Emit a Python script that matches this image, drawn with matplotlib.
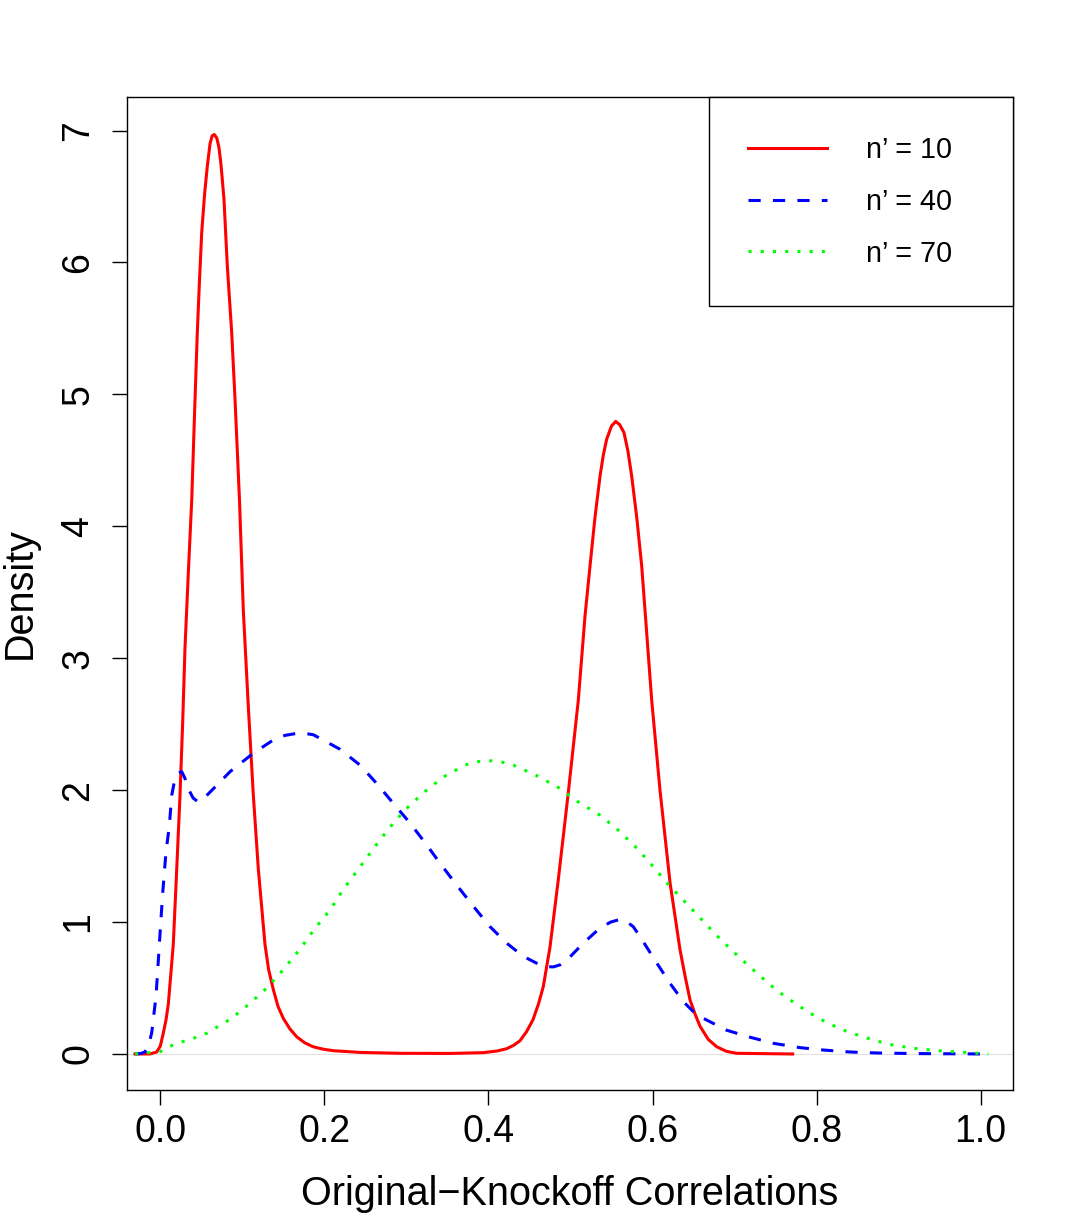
import matplotlib
matplotlib.use("Agg")
import matplotlib.pyplot as plt

plt.rcParams["font.family"] = ["Liberation Sans", "DejaVu Sans"]

# density curves (x = correlation, y = density)
x_n10 = [-0.0308, -0.0126, -0.0044, 0.0000, 0.0037, 0.0070, 0.0098, 0.0158, 0.0200,
         0.0240, 0.0273, 0.0301, 0.0341, 0.0383, 0.0423, 0.0451, 0.0478, 0.0505,
         0.0540, 0.0573, 0.0606, 0.0632, 0.0658, 0.0690, 0.0715, 0.0740, 0.0776,
         0.0817, 0.0870, 0.0911, 0.0965, 0.1012, 0.1073, 0.1134, 0.1195, 0.1276,
         0.1320, 0.1377, 0.1435, 0.1499, 0.1580, 0.1663, 0.1760, 0.1861, 0.1980,
         0.2105, 0.2434, 0.2922, 0.3532, 0.3933, 0.4100, 0.4222, 0.4305, 0.4384,
         0.4465, 0.4543, 0.4610, 0.4668, 0.4750, 0.4851, 0.4973, 0.5095, 0.5177,
         0.5238, 0.5299, 0.5360, 0.5400, 0.5441, 0.5500, 0.5551, 0.5600, 0.5652,
         0.5700, 0.5746, 0.5807, 0.5868, 0.5929, 0.5990, 0.6091, 0.6213, 0.6335,
         0.6400, 0.6457, 0.6520, 0.6579, 0.6680, 0.6782, 0.6900, 0.7026, 0.7708]
y_n10 = [0.0, 0.0, 0.015, 0.06, 0.16, 0.26, 0.38, 0.83, 1.40,
         1.96, 2.52, 3.08, 3.64, 4.20, 4.96, 5.47, 5.87, 6.23,
         6.52, 6.73, 6.90, 6.96, 6.97, 6.94, 6.87, 6.74, 6.48,
         5.97, 5.47, 4.96, 4.20, 3.36, 2.63, 1.96, 1.40, 0.83,
         0.64, 0.49, 0.36, 0.27, 0.19, 0.13, 0.085, 0.055, 0.037,
         0.025, 0.012, 0.005, 0.004, 0.010, 0.022, 0.040, 0.065, 0.10,
         0.17, 0.26, 0.38, 0.51, 0.81, 1.32, 1.98, 2.68, 3.32,
         3.70, 4.07, 4.38, 4.54, 4.66, 4.76, 4.795, 4.77, 4.71,
         4.57, 4.38, 4.07, 3.70, 3.19, 2.68, 2.00, 1.30, 0.79,
         0.58, 0.41, 0.30, 0.21, 0.11, 0.055, 0.020, 0.005, 0.0]

x_n40 = [-0.0308, -0.0230, -0.0187, -0.0145, -0.0105, -0.0052, -0.0012, 0.0029, 0.0069,
         0.0110, 0.0139, 0.0179, 0.0220, 0.0261, 0.0300, 0.0341, 0.0400, 0.0463,
         0.0550, 0.0646, 0.0850, 0.1134, 0.1377, 0.1520, 0.1663, 0.1760, 0.1865,
         0.2190, 0.2434, 0.2638, 0.2840, 0.3044, 0.3247, 0.3409, 0.3613, 0.3815,
         0.4019, 0.4222, 0.4425, 0.4628, 0.4710, 0.4790, 0.4870, 0.4954, 0.5156,
         0.5360, 0.5490, 0.5604, 0.5690, 0.5765, 0.5847, 0.6051, 0.6213, 0.6375,
         0.6538, 0.6904, 0.7188, 0.7472, 0.7797, 0.8081, 0.8407, 0.8732, 0.9220,
         1.0040]
y_n40 = [0.0, 0.005, 0.016, 0.06, 0.16, 0.44, 0.83, 1.22, 1.53,
         1.73, 1.96, 2.09, 2.13, 2.14, 2.09, 2.01, 1.94, 1.91,
         1.95, 2.01, 2.14, 2.28, 2.38, 2.415, 2.43, 2.43, 2.42,
         2.31, 2.19, 2.05, 1.90, 1.75, 1.585, 1.446, 1.28, 1.12,
         0.965, 0.84, 0.74, 0.675, 0.662, 0.66, 0.675, 0.71, 0.84,
         0.955, 1.00, 1.02, 1.00, 0.965, 0.89, 0.69, 0.536, 0.397,
         0.296, 0.18, 0.127, 0.081, 0.048, 0.030, 0.015, 0.0076, 0.003,
         0.0]

x_n70 = [-0.0308, -0.0004, 0.0139, 0.0280, 0.0423, 0.0566, 0.0700, 0.0829, 0.0951,
         0.1073, 0.1297, 0.1398, 0.1499, 0.1602, 0.1694, 0.1785, 0.1873, 0.2068,
         0.2231, 0.2413, 0.2596, 0.2779, 0.2983, 0.3206, 0.3450, 0.3714, 0.3860,
         0.3998, 0.4150, 0.4303, 0.4588, 0.4851, 0.5095, 0.5360, 0.5595, 0.5807,
         0.6009, 0.6213, 0.6416, 0.6627, 0.6834, 0.7058, 0.7282, 0.7517, 0.7764,
         0.8025, 0.8297, 0.8581, 0.8874, 0.9179, 0.9483, 0.9788, 1.0093]
y_n70 = [0.0, 0.017, 0.064, 0.095, 0.123, 0.157, 0.207, 0.255, 0.311,
         0.373, 0.50, 0.57, 0.64, 0.718, 0.789, 0.865, 0.943, 1.09,
         1.249, 1.40, 1.555, 1.704, 1.85, 1.98, 2.10, 2.19, 2.215,
         2.224, 2.215, 2.19, 2.11, 2.02, 1.91, 1.81, 1.69, 1.56,
         1.42, 1.27, 1.14, 1.00, 0.865, 0.733, 0.607, 0.48, 0.372,
         0.27, 0.187, 0.127, 0.074, 0.043, 0.025, 0.013, 0.0]

labels = ["n\u2019 = 10", "n\u2019 = 40", "n\u2019 = 70"]
x_ticks = [0.0, 0.2, 0.4, 0.6, 0.8, 1.0]
y_ticks = [0, 1, 2, 3, 4, 5, 6, 7]

fig = plt.figure(figsize=(10.82, 12.19), dpi=100)
ax = fig.add_axes([0.11738, 0.10583, 0.81885, 0.8146])

line_kw = dict(lw=2.2, solid_joinstyle="round", dash_joinstyle="round", zorder=3)
ax.axhline(0, color="#e2e2e2", lw=0.8, zorder=1)
ax.plot(x_n10, y_n10, color="#ff0000", label=labels[0], **line_kw)
ax.plot(x_n40, y_n40, color="#0000ff", linestyle=(0, (4, 4)), label=labels[1], **line_kw)
ax.plot(x_n70, y_n70, color="#00ff00", linestyle=(0, (1, 3)), label=labels[2], **line_kw)

ax.set_xlim(-0.0406, 1.0394)
ax.set_ylim(-0.273, 7.254)

ax.set_xticks(x_ticks)
ax.set_xticklabels([f"{v:.1f}" for v in x_ticks])
ax.set_yticks(y_ticks)
ax.set_yticklabels([str(v) for v in y_ticks], rotation=90, va="center")
ax.tick_params(direction="out", length=10.5, width=1.0, labelsize=27, colors="black")
ax.tick_params(axis="x", pad=7)
ax.tick_params(axis="y", pad=11.5)
for s in ax.spines.values():
    s.set_linewidth(1.0)

ax.set_xlabel("Original\u2212Knockoff Correlations", fontsize=28.5)
ax.set_ylabel("Density", fontsize=28.5)
ax.xaxis.set_label_coords(0.5, -0.086)
ax.yaxis.set_label_coords(-0.0993, 0.5)

leg = ax.legend(loc="upper left", bbox_to_anchor=(0.6569, 0.0, 0.3431, 1.0),
                mode="expand", borderaxespad=0, fontsize=20.7, frameon=True,
                fancybox=False, borderpad=1.35, labelspacing=0.83,
                handlelength=2.75, handletextpad=1.36)
leg.get_frame().set_edgecolor("black")
leg.get_frame().set_linewidth(1.0)
leg.get_frame().set_alpha(1)

fig.savefig("out.png", dpi=100)
